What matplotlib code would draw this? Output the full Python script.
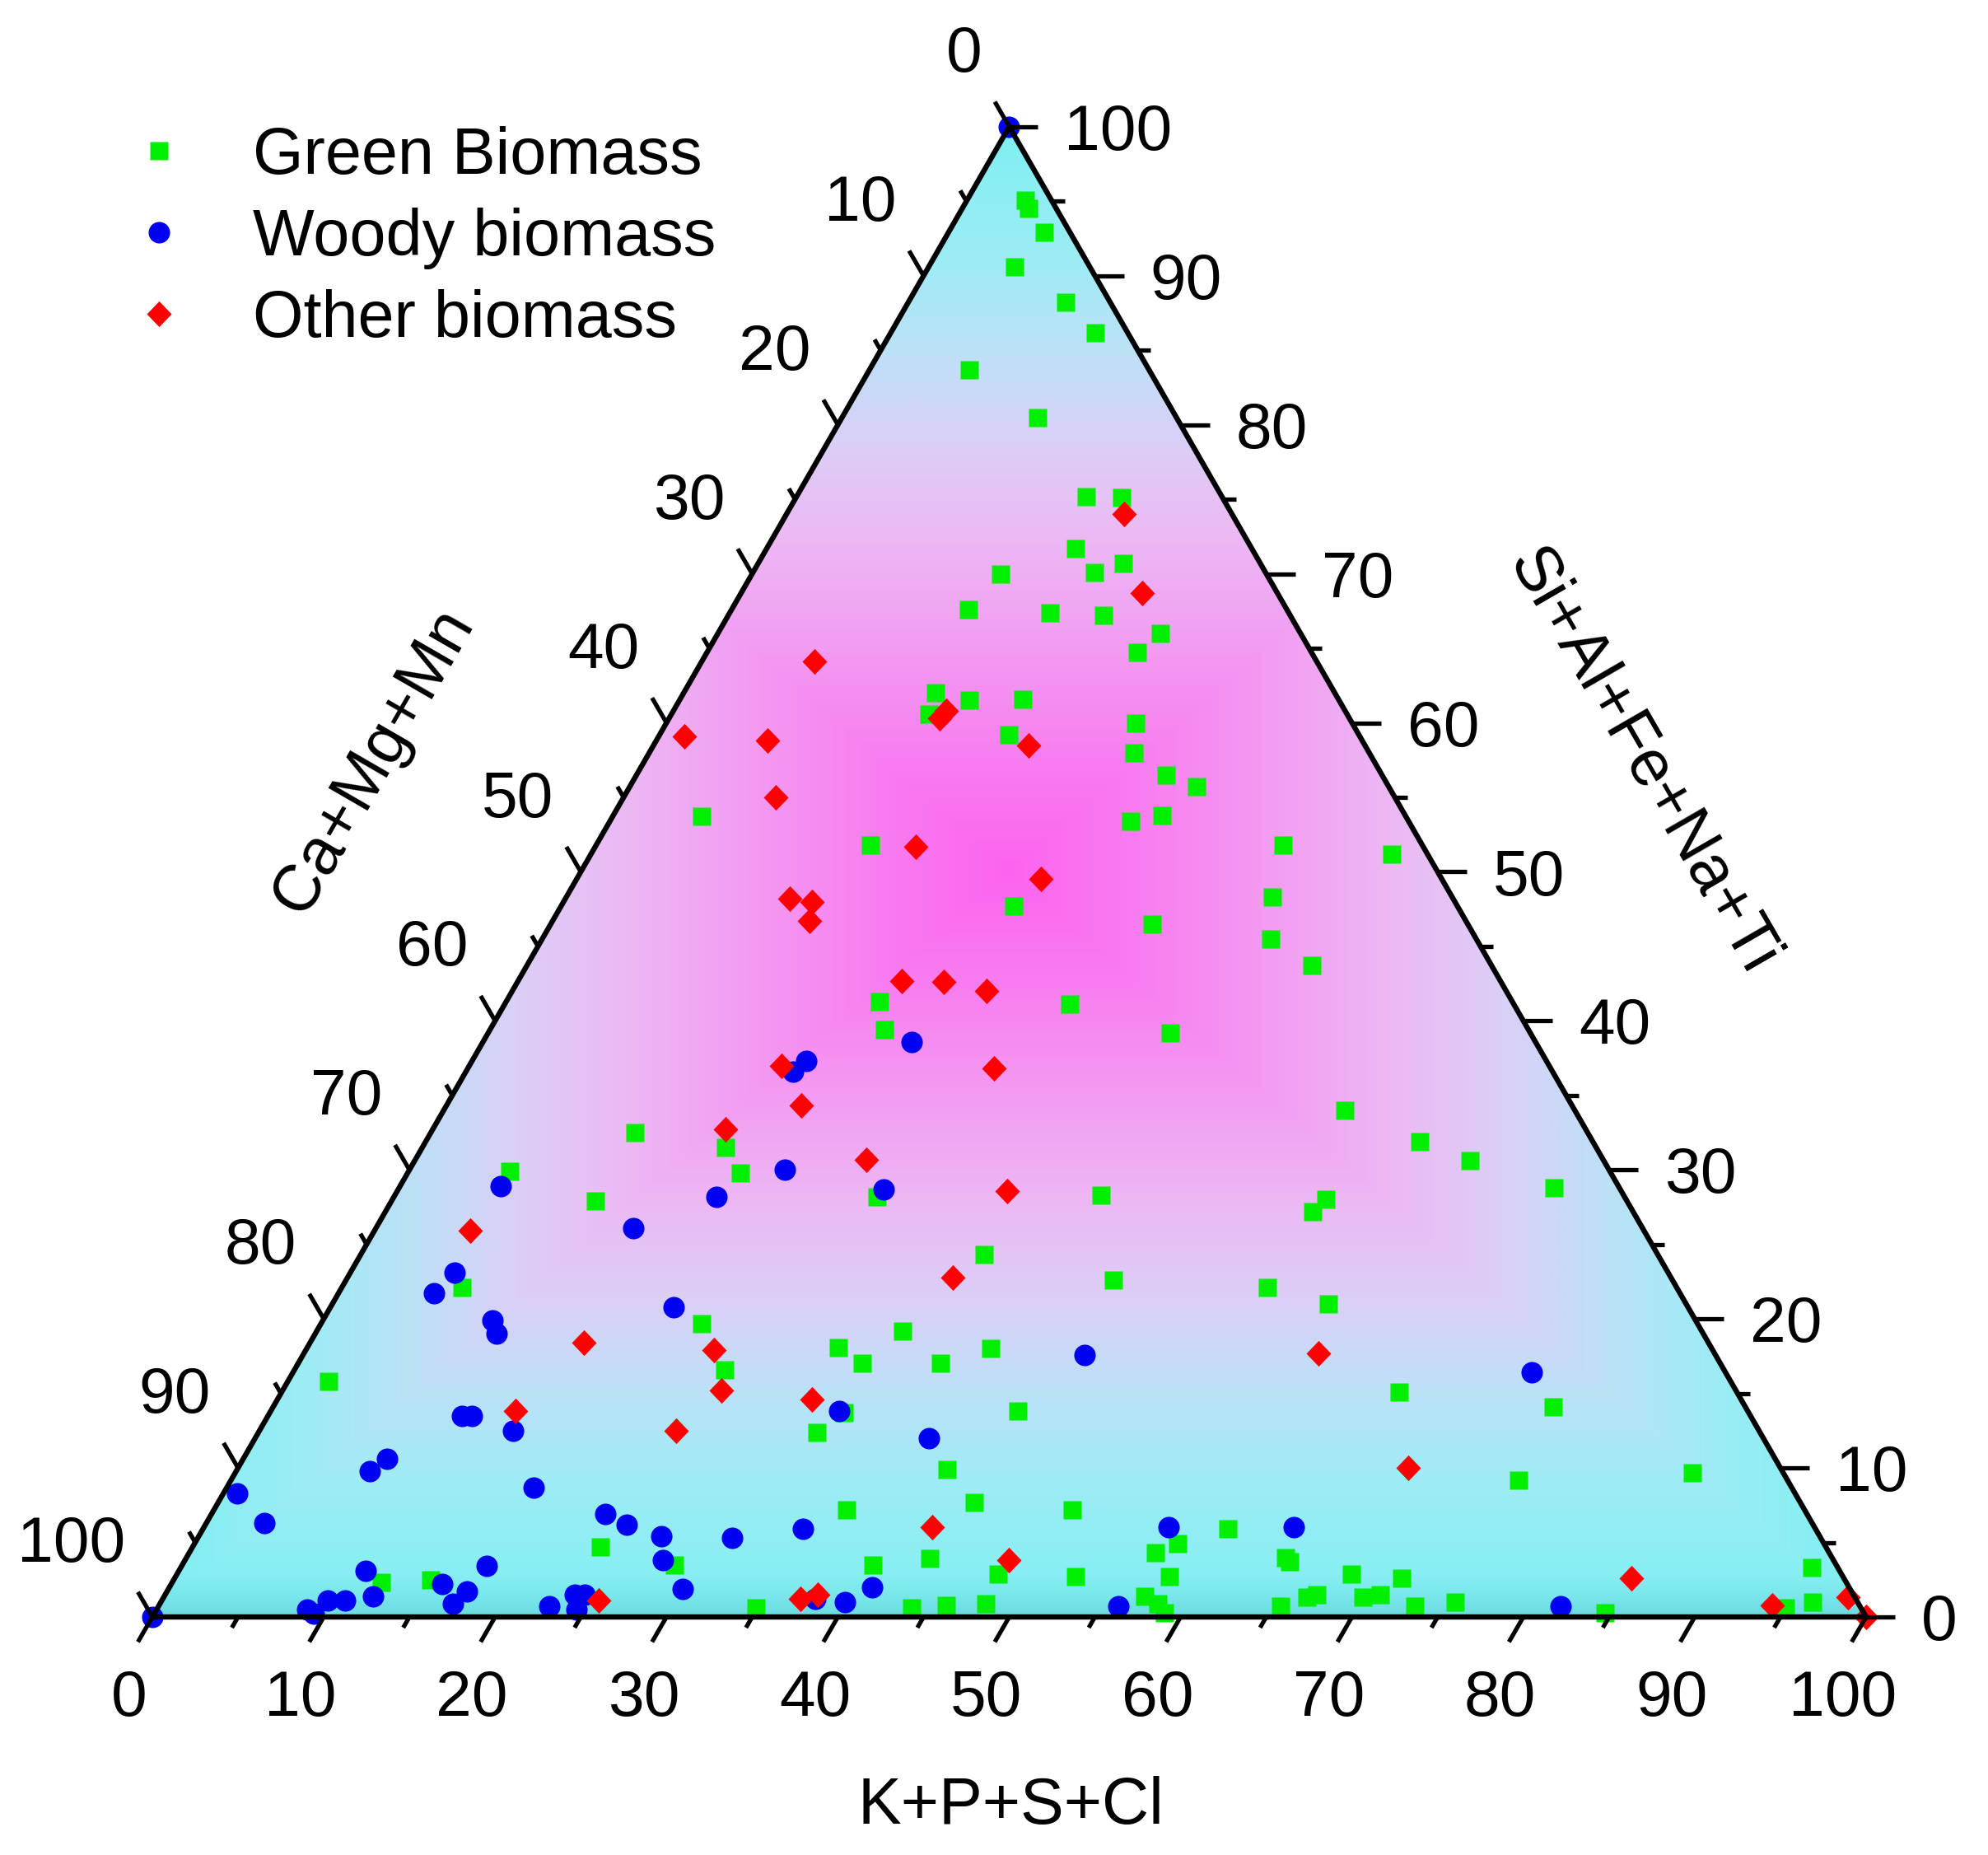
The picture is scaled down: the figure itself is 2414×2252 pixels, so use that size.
import numpy as np
import matplotlib
matplotlib.use("Agg")
import matplotlib.pyplot as plt
from matplotlib.patches import Polygon
from matplotlib.collections import LineCollection
from matplotlib.path import Path

plt.rcParams['font.family'] = ['Liberation Sans', 'DejaVu Sans']

# ---------------- data (K+P+S+Cl, Si+Al+Fe+Na+Ti ; Ca+Mg+Mn = remainder) -------------
green_K = [3.4, 3.9, 5.6, 5.0, 9.2, 11.9, 5.8, 11.4, 16.9, 19.0, 18.0, 21.3, 19.9, 14.5,
           13.8, 18.7, 21.9, 25.8, 25.1, 14.7, 16.9, 15.0, 20.0, 20.4, 27.4, 28.3, 30.9,
           33.1, 32.0, 30.4, 5.2, 16.0, 40.1, 46.7, 26.4, 41.2, 35.1, 42.5, 45.8, 21.8,
           33.0, 23.0, 39.8, 52.6, 11.9, 58.0, 17.7, 61.6, 5.9, 19.4, 67.4, 11.9, 28.2,
           41.2, 54.5, 54.1, 36.4, 44.8, 54.0, 58.1, 7.0, 22.2, 34.2, 31.0, 39.9, 25.1,
           32.9, 37.5, 2.4, 65.2, 74.7, 43.6, 33.5, 32.6, 41.4, 75.1, 85.0, 44.1, 36.9,
           50.1, 59.8, 57.4, 56.4, 64.1, 64.5, 40.3, 43.4, 47.9, 52.5, 58.0, 23.8, 28.7,
           12.2, 15.0, 34.9, 44.0, 45.9, 48.2, 57.2, 58.2, 58.9, 65.5, 66.7, 67.2, 68.5,
           71.6, 70.0, 70.9, 73.3, 75.5, 84.6, 95.2, 96.4, 95.0]
green_Si = [95.1, 94.5, 92.9, 90.6, 88.2, 86.2, 83.7, 80.5, 75.2, 75.1, 71.7, 70.7, 70.1,
            70.0, 67.6, 67.4, 67.2, 66.0, 64.7, 62.0, 61.5, 60.6, 61.6, 59.2, 60.0, 58.0,
            56.5, 55.7, 53.8, 53.4, 53.7, 51.8, 51.8, 51.2, 47.7, 48.3, 46.5, 45.5, 43.7,
            41.3, 41.1, 39.4, 39.2, 34.0, 32.5, 31.9, 31.5, 30.6, 29.9, 29.8, 28.8, 27.9,
            28.2, 28.3, 28.0, 27.2, 24.3, 22.6, 22.1, 21.0, 22.1, 19.7, 19.2, 18.1, 18.0,
            16.6, 17.0, 17.0, 15.8, 15.1, 14.1, 13.8, 13.7, 12.4, 9.9, 9.2, 9.7, 7.7, 7.2,
            7.2, 5.9, 4.9, 4.3, 4.0, 3.7, 3.5, 3.9, 2.9, 2.7, 2.7, 4.7, 3.5, 2.3, 2.5,
            0.6, 0.6, 0.8, 0.9, 1.4, 0.9, 0.3, 0.7, 1.3, 1.5, 2.9, 2.6, 1.3, 1.5, 0.7,
            1.0, 0.3, 3.3, 1.0, 0.6]

woody_K = [0.0, 25.0, 19.5, 19.1, 21.9, 5.9, 18.8, 28.3, 15.0, 6.1, 5.6, 20.0, 9.9, 10.6,
           45.6, 72.3, 33.2, 11.3, 11.9, 14.8, 39.3, 8.4, 7.8, 0.8, 3.4, 17.9, 23.0, 24.6,
           27.0, 27.9, 30.0, 17.8, 10.9, 12.2, 15.8, 17.5, 17.1, 10.7, 9.7, 8.8, 9.3, 0.0,
           22.8, 23.9, 24.5, 24.5, 31.2, 35.0, 56.3, 63.6, 41.0, 39.9, 38.1, 56.0, 81.8]
woody_Si = [100.0, 38.6, 37.3, 36.6, 30.0, 28.9, 28.2, 28.7, 26.1, 23.1, 21.7, 20.8, 19.9,
            19.0, 17.6, 16.4, 13.8, 13.5, 13.5, 12.5, 12.0, 10.6, 9.8, 8.3, 6.3, 8.7, 6.9,
            6.2, 5.4, 3.8, 1.9, 3.4, 3.1, 1.4, 2.2, 1.7, 0.9, 1.1, 1.1, 0.5, 0.2, 0.0,
            0.7, 1.5, 1.5, 0.5, 5.3, 5.9, 6.0, 6.0, 2.0, 1.0, 1.2, 0.7, 0.7]

other_K = [19.7, 23.4, 6.6, 1.5, 6.5, 15.9, 15.8, 21.9, 8.9, 18.7, 27.1, 13.1, 14.5, 15.0,
           22.4, 24.9, 27.7, 18.2, 30.7, 20.7, 17.1, 26.3, 35.6, 5.6, 35.3, 16.0, 23.8,
           59.2, 14.3, 25.6, 31.2, 24.3, 68.3, 42.5, 48.1, 25.5, 37.2, 38.1, 85.0, 94.1,
           98.3, 100.0]
other_Si = [74.0, 68.7, 64.1, 59.1, 58.8, 60.8, 60.3, 58.5, 55.0, 51.7, 49.5, 48.2, 48.0,
            46.7, 42.7, 42.6, 42.0, 37.0, 36.8, 34.3, 32.7, 30.7, 28.6, 25.9, 22.8, 18.4,
            17.9, 17.7, 13.8, 15.2, 14.6, 12.5, 10.0, 6.0, 3.8, 1.1, 1.2, 1.5, 2.6, 0.8,
            1.3, 0.0]

series_labels = ['Green Biomass', 'Woody biomass', 'Other biomass']
tick_values = list(range(0, 101, 10))
minor_values = list(range(5, 100, 10))
title_bottom = 'K+P+S+Cl'
title_left = 'Ca+Mg+Mn'
title_right = 'Si+Al+Fe+Na+Ti'

# ---------------- geometry ----------------
S3 = np.sqrt(3) / 2


def tern(K, Si):
    K = np.asarray(K, float)
    Si = np.asarray(Si, float)
    return K + Si / 2.0, Si * S3


W, H, DPI = 2414, 2252, 100
fig = plt.figure(figsize=(W / DPI, H / DPI), dpi=DPI)
ax = fig.add_axes([0, 0, 1, 1])
SX, SY = 20.81, 20.89            # pixels per data unit
LEFT_PX, BASE_PX = 185, 1963     # triangle left vertex / base line in pixels (from top)

# ---------------- gradient fill ----------------
nx, ny = 1100, 960
xs = np.linspace(0, 100, nx)
ys = np.linspace(0, 100 * S3, ny)
X, Y = np.meshgrid(xs, ys)
cy = 50 * S3
d = np.maximum(np.abs(X - 50) / 50, np.abs(Y - cy) / cy)
stops = [0.0, 0.15, 0.30, 0.45, 0.58, 0.70, 0.82, 1.0]
cols = np.array([(252, 100, 238), (248, 125, 240), (243, 155, 242), (236, 185, 244),
                 (218, 208, 246), (188, 225, 246), (158, 236, 245), (125, 240, 242)]) / 255.0
rgb = np.stack([np.interp(d, stops, cols[:, i]) for i in range(3)], axis=-1)
dark = np.array([95, 205, 212]) / 255.0
t = (np.clip(1 - Y / 2.6, 0, 1) ** 1.4 * 0.6)[..., None]
rgb = rgb * (1 - t) + dark * t

tri = Polygon([[0, 0], [100, 0], [50, 100 * S3]], closed=True, fc='none', ec='none')
ax.add_patch(tri)
im = ax.imshow(rgb, extent=(0, 100, 0, 100 * S3), origin='lower',
               interpolation='bilinear', aspect='auto', zorder=0)
im.set_clip_path(tri)

# ---------------- data points ----------------
gx, gy = tern(green_K, green_Si)
h1, = ax.plot(gx, gy, ls='none', marker='s', ms=16, mfc='#00EE00', mec='none', zorder=4)
bx, by = tern(woody_K, woody_Si)
h2, = ax.plot(bx, by, ls='none', marker='o', ms=18.8, mfc='#0000F2', mec='none', zorder=5)
diamond = Path([(0, 1), (0.96, 0), (0, -1), (-0.96, 0), (0, 1)],
               [Path.MOVETO, Path.LINETO, Path.LINETO, Path.LINETO, Path.CLOSEPOLY])
rx, ry = tern(other_K, other_Si)
h3, = ax.plot(rx, ry, ls='none', marker=diamond, ms=22.5, mfc='#FF0000', mec='none', zorder=6)

# ---------------- frame & ticks ----------------
ax.plot([0, 100, 50, 0], [0, 0, 100 * S3, 0], color='black', lw=4.6, zorder=10,
        solid_joinstyle='miter', solid_capstyle='projecting')

segs = []
for v in tick_values + minor_values:
    L = 35 if v % 10 == 0 else 15
    # bottom axis (K): ticks pointing down-left
    segs.append([(v, 0), (v - 0.5 * L / SX, -S3 * L / SY)])
    # right axis (Si): horizontal ticks to the right
    xr, yr = 100 - v / 2.0, v * S3
    segs.append([(xr, yr), (xr + L / SX, yr)])
    # left axis (Ca): ticks pointing up-left
    s = 100 - v
    xl, yl = s / 2.0, s * S3
    segs.append([(xl, yl), (xl - 0.5 * L / SX, yl + S3 * L / SY)])
ax.add_collection(LineCollection(segs, colors='black', linewidths=3.8, zorder=10,
                                 capstyle='butt'))

FS = 56.5
half_cap = 0.358 * FS * DPI / 72.0
for v in tick_values:
    lab = str(v)
    ax.text(v - 28 / SX, -(92 + half_cap) / SY, lab, fontsize=FS, ha='center', va='baseline')
    ax.text(100 - v / 2.0 + 67 / SX, v * S3 - half_cap / SY, lab, fontsize=FS,
            ha='left', va='baseline')
    s = 100 - v
    ax.text(s / 2.0 - 33 / SX, s * S3 + (95 - half_cap) / SY, lab, fontsize=FS,
            ha='right', va='baseline')

TFS = 57
ax.text(50.07, -10.67 - 0.358 * TFS * DPI / 72.0 / SY, title_bottom, fontsize=TFS,
        ha='center', va='baseline')
ax.text(12.93, 49.74, title_left, fontsize=TFS, rotation=60, rotation_mode='anchor',
        ha='center', va='center')
ax.text(86.93, 49.74, title_right, fontsize=TFS, rotation=-60, rotation_mode='anchor',
        ha='center', va='center')

# ---------------- legend ----------------
ax.legend([h1, h2, h3], series_labels, loc='upper left',
          bbox_to_anchor=(153 / W, 1 - 153 / H), bbox_transform=fig.transFigure,
          frameon=False, fontsize=57, handlelength=1.0, handletextpad=0.95,
          labelspacing=0.3, borderpad=0, borderaxespad=0, numpoints=1)

ax.set_xlim(-LEFT_PX / SX, (W - LEFT_PX) / SX)
ax.set_ylim(-(H - BASE_PX) / SY, BASE_PX / SY)
ax.axis('off')

fig.savefig('out.png', dpi=DPI, facecolor='white')
